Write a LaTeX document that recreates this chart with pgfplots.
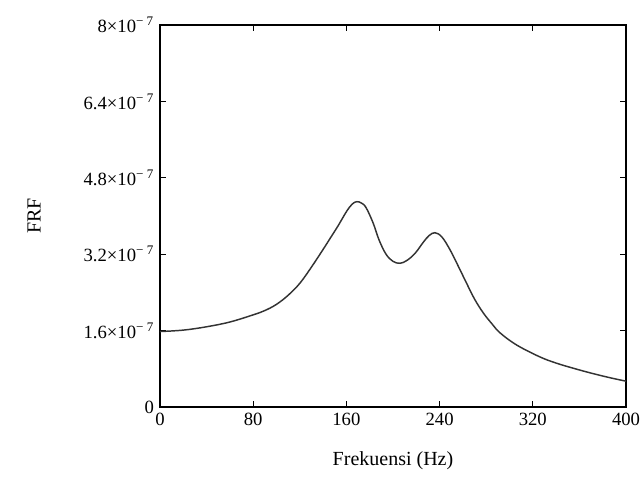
\documentclass[border=0pt]{standalone}
\usepackage{fontspec}
\setmainfont{Liberation Serif}
\usepackage{pgfplots}
\pgfplotsset{compat=1.18}
\begin{document}
\begin{tikzpicture}[x=0.75pt,y=0.75pt]
\path[use as bounding box] (0,0) rectangle (643,488);
\begin{axis}[
  at={(160pt*0.75,81pt*0.75)}, anchor=south west,
  scale only axis,
  width=349.5pt, height=286.5pt,
  xmin=0, xmax=400, ymin=0, ymax=8e-7,
  xtick={0,80,160,240,320,400},
  ytick={0,1.6e-7,3.2e-7,4.8e-7,6.4e-7,8e-7},
  xticklabels={0,80,160,240,320,400},
  yticklabels={0,1.6×10\textsuperscript{− 7},3.2×10\textsuperscript{− 7},4.8×10\textsuperscript{− 7},6.4×10\textsuperscript{− 7},8×10\textsuperscript{− 7}},
  scaled y ticks=false,
  tick align=inside,
  major tick length=4.5pt,
  tick style={line width=1pt, black},
  axis line style={line width=1.1pt},
  /pgf/number format/assume math mode=true,
  ticklabel style={font=\fontsize{14}{16}\selectfont},
  xticklabel style={yshift=-1pt},
  yticklabel style={xshift=-1pt},
  xlabel={Frekuensi (Hz)},
  ylabel={FRF},
  label style={font=\fontsize{15}{18}\selectfont},
  xlabel style={at={(0.5,0)},anchor=north,yshift=-30pt},
  ylabel style={at={(0,0.5)},anchor=south,yshift=86pt},
]
\addplot[smooth, tension=0.6, line width=1.1pt, black!80] coordinates {
(0,1.58e-7) (20,1.61e-7) (40,1.68e-7) (60,1.78e-7) (80,1.93e-7)
(90,2.02e-7) (100,2.15e-7) (110,2.34e-7) (120,2.59e-7) (130,2.93e-7)
(140,3.30e-7) (146,3.53e-7) (153,3.80e-7) (160,4.09e-7) (165,4.25e-7)
(169,4.30e-7) (173,4.27e-7) (177,4.17e-7) (183,3.85e-7) (188,3.50e-7)
(194,3.20e-7) (200,3.05e-7) (206,3.01e-7) (212,3.07e-7) (219,3.22e-7)
(226,3.45e-7) (231,3.59e-7) (236,3.65e-7) (242,3.56e-7) (249,3.29e-7)
(256,2.95e-7) (263,2.60e-7) (270,2.26e-7) (277.5,1.97e-7) (285,1.74e-7)
(292,1.55e-7) (306,1.30e-7) (326,1.05e-7) (340,0.92e-7) (355,0.81e-7)
(370,0.71e-7) (385,0.62e-7) (400,0.54e-7)
};
\end{axis}
\end{tikzpicture}
\end{document}
